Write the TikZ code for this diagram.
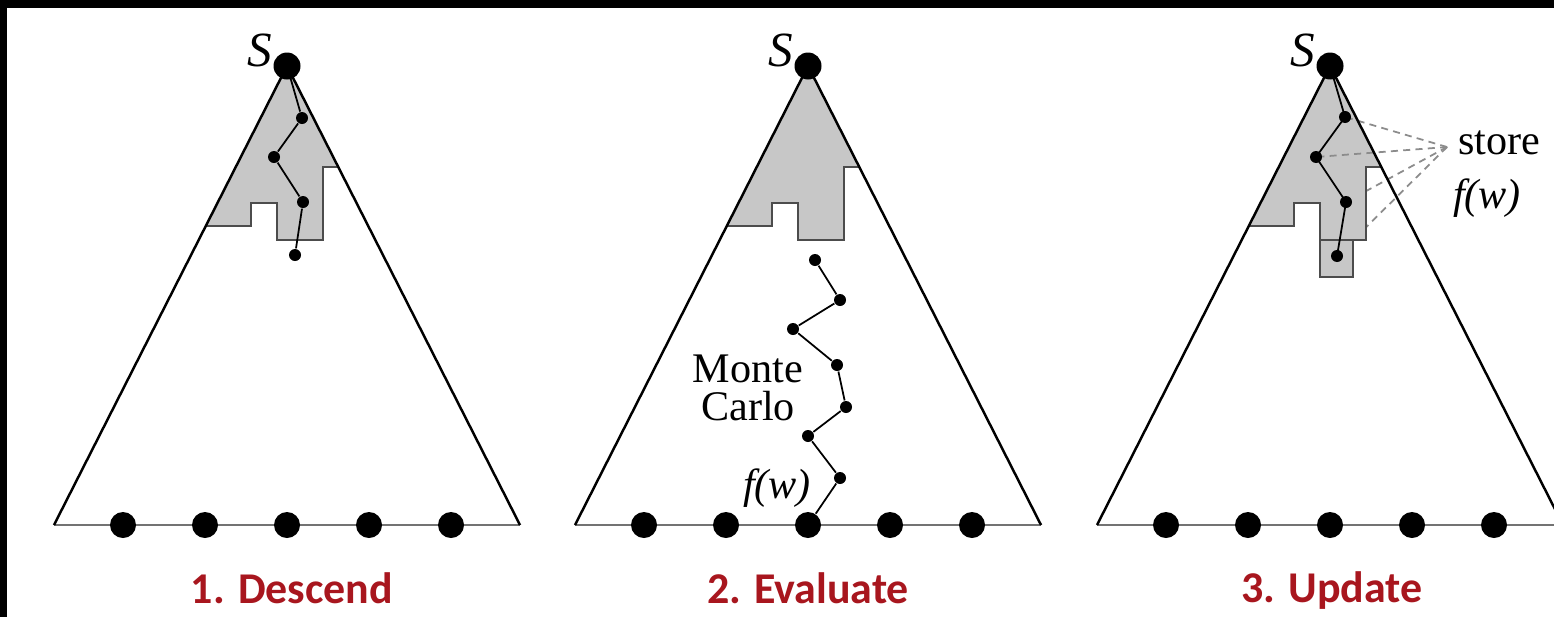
\documentclass[tikz,border=0pt]{standalone}
\usepackage{fontspec}
\setmainfont{Liberation Serif}
\newfontfamily\capfont{Carlito}
\definecolor{capred}{RGB}{168,22,30}

% one search tree: root S, two sides, ground line and five leaves
\newcommand{\searchtree}[1]{%
  \node[rootdot] (root#1) at (0,0) {};
  \node[rootlbl] (s#1) at (-0.27,0.16) {S};
  \coordinate (bl#1) at (-2.33,-4.59);
  \coordinate (br#1) at (2.33,-4.59);
  \draw[ground] (bl#1) -- (br#1);
  \draw[side] (bl#1) -- (root#1.center) -- (br#1);
  \foreach \i/\x in {1/-1.64,2/-0.82,3/0,4/0.82,5/1.64}
    \node[leaf] (leaf#1-\i) at (\x,-4.59) {};
}

% grey part of the tree already explored
\newcommand{\knownpart}{%
  \begin{scope}
    \clip (0,0) -- (-2.33,-4.59) -- (2.33,-4.59) -- cycle;
    \filldraw[explored] (0,0.5) -- (1,-1.01) -- (0.36,-1.01) -- (0.36,-1.74)
      -- (-0.10,-1.74) -- (-0.10,-1.37) -- (-0.36,-1.37) -- (-0.36,-1.60)
      -- (-1.2,-1.60) -- cycle;
  \end{scope}
}

\begin{document}
\begin{tikzpicture}[
  leaf/.style={circle, fill=black, inner sep=0pt, minimum size=2.6mm},
  rootdot/.style={circle, fill=black, inner sep=0pt, minimum size=2.7mm},
  walk/.style={circle, fill=black, inner sep=0pt, minimum size=1.2mm},
  rootlbl/.style={font=\fontsize{14}{14}\selectfont\itshape, inner sep=0pt},
  side/.style={line width=0.7pt},
  ground/.style={black!55, line width=0.6pt},
  explored/.style={fill=black!22, draw=black!70, line width=0.5pt},
  caption/.style={font=\capfont\bfseries\fontsize{12.5}{15}\selectfont, text=capred},
  lbl/.style={font=\fontsize{12}{11}\selectfont, align=center, inner sep=0pt},
  link/.style={black!45, dash pattern=on 2pt off 1.5pt, line width=0.5pt}
]
\useasboundingbox (0,0) rectangle (15.54,6.17);
\fill[black] (0,0) rectangle (15.54,6.17);
\fill[white] (0.07,0) rectangle (15.54,6.09);
\clip (0.07,0) rectangle (15.54,6.09);

% 1. Descend
\begin{scope}[shift={(2.87,5.51)}]
  \knownpart
  \searchtree{1}
  \node[walk] (d1) at (0.15,-0.52) {};
  \node[walk] (d2) at (-0.13,-0.91) {};
  \node[walk] (d3) at (0.16,-1.36) {};
  \node[walk] (d4) at (0.08,-1.89) {};
  \draw[line width=0.5pt] (root1.center) -- (d1) -- (d2) -- (d3) -- (d4);
  \node[caption] (cap1) at (0.05,-5.22) {1. Descend};
\end{scope}

% 2. Evaluate
\begin{scope}[shift={(8.08,5.51)}]
  \knownpart
  \searchtree{2}
  \node[walk] (m1) at (0.07,-1.94) {};
  \node[walk] (m2) at (0.32,-2.34) {};
  \node[walk] (m3) at (-0.15,-2.63) {};
  \node[walk] (m4) at (0.29,-2.99) {};
  \node[walk] (m5) at (0.38,-3.41) {};
  \node[walk] (m6) at (0.00,-3.70) {};
  \node[walk] (m7) at (0.32,-4.12) {};
  \draw[line width=0.5pt] (m1) -- (m2) -- (m3) -- (m4) -- (m5) -- (m6) -- (m7) -- (leaf2-3);
  \node[lbl] (mc) at (-0.60,-3.22) {Monte\\Carlo};
  \node[lbl, font=\fontsize{12}{12}\selectfont\itshape] (fw2) at (-0.31,-4.22) {f(w)};
  \node[caption] (cap2) at (0,-5.22) {2. Evaluate};
\end{scope}

% 3. Update
\begin{scope}[shift={(13.30,5.51)}]
  \coordinate (u1) at (0.15,-0.51);
  \coordinate (u2) at (-0.14,-0.91);
  \coordinate (u3) at (0.16,-1.36);
  \coordinate (u4) at (0.07,-1.90);
  \coordinate (hub) at (1.17,-0.81);
  \draw[link] (hub) -- (u3);
  \draw[link] (hub) -- (u4);
  \knownpart
  \filldraw[explored] (-0.10,-1.74) rectangle (0.23,-2.11);
  \draw[link] (hub) -- (u1);
  \draw[link] (hub) -- (u2);
  \searchtree{3}
  \draw[line width=0.5pt] (root3.center) -- (u1) -- (u2) -- (u3) -- (u4);
  \foreach \p in {u1,u2,u3,u4}
    \node[walk] at (\p) {};
  \node[lbl] (store) at (1.69,-0.77) {store};
  \node[lbl, font=\fontsize{12}{12}\selectfont\itshape] (fw3) at (1.57,-1.32) {f(w)};
  \node[caption] (cap3) at (0.02,-5.25) {3. Update};
\end{scope}
\end{tikzpicture}
\end{document}
